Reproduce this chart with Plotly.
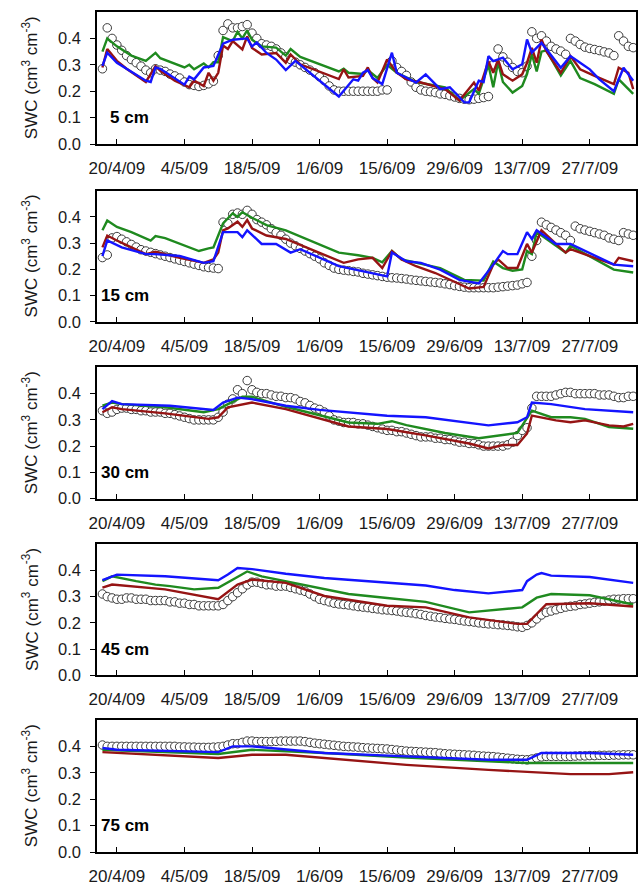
import datetime as dt
import plotly.graph_objects as go

# ---------------- data ----------------
DAY0 = dt.date(2009, 4, 20)          # day offsets below are counted from 20/4/09
OBS_FIRST_DAY = -3                   # observations are daily from 17/4/09
DEPTHS = ["5 cm", "15 cm", "30 cm", "45 cm", "75 cm"]
TICK_DATES = ["2009-04-20", "2009-05-04", "2009-05-18", "2009-06-01",
              "2009-06-15", "2009-06-29", "2009-07-13", "2009-07-27"]
Y_TICKS = [0.0, 0.1, 0.2, 0.3, 0.4]

# observed SWC (open circles), daily
OBS_5 = [0.285, 0.44, 0.40, 0.375, 0.355, 0.335, 0.32, 0.308, 0.295, 0.28,
         0.27, 0.285, 0.28, 0.275, 0.265, 0.258, 0.25, 0.235, 0.225, 0.222,
         0.218, 0.222, 0.228, 0.238, 0.335, 0.43, 0.455, 0.44, 0.44, 0.445,
         0.452, 0.42, 0.40, 0.38, 0.375, 0.37, 0.36, 0.345, 0.33, 0.32,
         0.31, 0.30, 0.29, 0.28, 0.27, 0.255, 0.24, 0.22, 0.205, 0.2,
         0.2, 0.2, 0.2, 0.2, 0.2, 0.2, 0.2, 0.2, 0.205, 0.205,
         0.315, 0.29, 0.275, 0.26, 0.235, 0.215, 0.205, 0.2, 0.198, 0.195,
         0.19, 0.188, 0.183, 0.178, 0.173, 0.17, 0.168, 0.17, 0.173, 0.176,
         0.18, 0.30, 0.36, 0.33, 0.31, 0.29, 0.275, 0.27, 0.295, 0.425,
         0.40, 0.41, 0.39, 0.37, 0.36, 0.352, 0.34, 0.40, 0.39, 0.377,
         0.367, 0.362, 0.358, 0.354, 0.349, 0.345, 0.335, 0.41, 0.39, 0.37,
         0.365]
OBS_15 = [0.245, 0.255, 0.32, 0.325, 0.315, 0.305, 0.295, 0.285, 0.275, 0.27,
          0.265, 0.26, 0.255, 0.25, 0.245, 0.24, 0.235, 0.23, 0.225, 0.22,
          0.215, 0.21, 0.207, 0.205, 0.203, 0.38, 0.375, 0.41, 0.415, 0.41,
          0.425, 0.41, 0.39, 0.38, 0.37, 0.355, 0.34, 0.33, 0.315, 0.30,
          0.29, 0.28, 0.27, 0.26, 0.25, 0.24, 0.225, 0.215, 0.205, 0.2,
          0.197, 0.195, 0.192, 0.19, 0.185, 0.182, 0.179, 0.176, 0.173, 0.17,
          0.168, 0.167, 0.165, 0.163, 0.16, 0.158, 0.156, 0.154, 0.152, 0.15,
          0.148, 0.145, 0.142, 0.138, 0.135, 0.132, 0.13, 0.13, 0.13, 0.13,
          0.13, 0.13, 0.132, 0.134, 0.136, 0.138, 0.14, 0.145, 0.15, 0.25,
          0.31, 0.38, 0.37, 0.36, 0.35, 0.34, 0.33, 0.31, 0.365, 0.355,
          0.35, 0.345, 0.34, 0.335, 0.33, 0.32, 0.315, 0.31, 0.34, 0.335,
          0.33]
OBS_30 = [0.335, 0.325, 0.33, 0.34, 0.345, 0.345, 0.34, 0.34, 0.335, 0.335,
          0.33, 0.33, 0.33, 0.325, 0.325, 0.32, 0.315, 0.31, 0.305, 0.30,
          0.30, 0.30, 0.30, 0.30, 0.31, 0.33, 0.36, 0.38, 0.415, 0.40,
          0.45, 0.415, 0.405, 0.40, 0.40, 0.395, 0.39, 0.39, 0.385, 0.385,
          0.38, 0.37, 0.365, 0.355, 0.345, 0.34, 0.33, 0.315, 0.30, 0.295,
          0.29, 0.29, 0.29, 0.285, 0.285, 0.28, 0.275, 0.27, 0.265, 0.26,
          0.26, 0.255, 0.255, 0.25, 0.245, 0.24, 0.235, 0.235, 0.235, 0.23,
          0.23, 0.225, 0.225, 0.22, 0.215, 0.215, 0.21, 0.21, 0.205, 0.2,
          0.2, 0.2, 0.2, 0.2, 0.205, 0.215, 0.24, 0.26, 0.27, 0.345,
          0.39, 0.39, 0.39, 0.39, 0.395, 0.40, 0.405, 0.405, 0.40, 0.40,
          0.40, 0.40, 0.40, 0.395, 0.395, 0.395, 0.39, 0.385, 0.385, 0.39,
          0.39]
OBS_45 = [0.31, 0.30, 0.295, 0.29, 0.29, 0.295, 0.295, 0.29, 0.29, 0.29,
          0.285, 0.285, 0.285, 0.285, 0.28, 0.28, 0.275, 0.275, 0.27, 0.27,
          0.265, 0.265, 0.265, 0.265, 0.265, 0.27, 0.285, 0.30, 0.315, 0.33,
          0.345, 0.355, 0.355, 0.35, 0.345, 0.345, 0.34, 0.34, 0.34, 0.335,
          0.33, 0.325, 0.32, 0.31, 0.30, 0.29, 0.285, 0.28, 0.275, 0.272,
          0.27, 0.268, 0.265, 0.262, 0.26, 0.258, 0.255, 0.253, 0.25, 0.249,
          0.247, 0.245, 0.242, 0.24, 0.238, 0.235, 0.232, 0.228, 0.225, 0.222,
          0.22, 0.217, 0.215, 0.213, 0.21, 0.207, 0.205, 0.203, 0.2, 0.198,
          0.196, 0.195, 0.193, 0.192, 0.19, 0.188, 0.185, 0.183, 0.19, 0.2,
          0.215, 0.23, 0.24, 0.245, 0.25, 0.255, 0.26, 0.263, 0.265, 0.27,
          0.272, 0.275, 0.278, 0.28, 0.283, 0.287, 0.29, 0.29, 0.292, 0.292,
          0.292]
OBS_75 = [0.405, 0.40, 0.40, 0.40, 0.40, 0.40, 0.40, 0.40, 0.40, 0.40,
          0.40, 0.40, 0.40, 0.40, 0.40, 0.40, 0.398, 0.398, 0.397, 0.397,
          0.396, 0.396, 0.396, 0.397, 0.398, 0.40, 0.405, 0.41, 0.41, 0.415,
          0.42, 0.42, 0.418, 0.418, 0.418, 0.418, 0.419, 0.42, 0.42, 0.42,
          0.42, 0.42, 0.418, 0.415, 0.412, 0.41, 0.408, 0.406, 0.404, 0.402,
          0.40, 0.399, 0.398, 0.397, 0.395, 0.394, 0.393, 0.392, 0.391, 0.39,
          0.388, 0.386, 0.384, 0.382, 0.381, 0.38, 0.379, 0.378, 0.377, 0.376,
          0.374, 0.372, 0.371, 0.37, 0.369, 0.368, 0.367, 0.366, 0.364, 0.363,
          0.362, 0.361, 0.359, 0.357, 0.355, 0.353, 0.351, 0.35, 0.349, 0.352,
          0.356, 0.36, 0.362, 0.362, 0.362, 0.362, 0.362, 0.362, 0.363, 0.364,
          0.364, 0.365, 0.365, 0.366, 0.366, 0.366, 0.367, 0.367, 0.368, 0.368,
          0.368]

# simulated SWC, model lines (day offset, value)
G5_DAY = [-3, -2, 0, 3, 6, 8, 9, 14, 15, 16, 18, 19, 20, 21, 22, 24, 25, 26, 27, 28,
          30, 33, 35, 36, 38, 46, 47, 48, 51, 52, 54, 56, 58, 62, 68, 71, 74, 75, 77, 78,
          79, 80, 82, 84, 85, 86, 87, 88, 89, 92, 94, 96, 99, 103, 104, 107]
G5 = [0.35, 0.40, 0.37, 0.335, 0.315, 0.345, 0.325, 0.29, 0.30, 0.283, 0.305, 0.29, 0.31, 0.31,
      0.405, 0.39, 0.425, 0.40, 0.43, 0.395, 0.37, 0.365, 0.335, 0.36, 0.33, 0.275, 0.285, 0.27,
      0.265, 0.28, 0.25, 0.30, 0.27, 0.235, 0.215, 0.165, 0.208, 0.19, 0.30, 0.215, 0.31, 0.235,
      0.195, 0.22, 0.265, 0.34, 0.275, 0.35, 0.355, 0.26, 0.315, 0.25, 0.227, 0.19, 0.245, 0.19]
R5_DAY = [-3, -2, 0, 2, 6, 8, 9, 12, 15, 16, 18, 19, 20, 21, 22, 23, 24, 26, 27, 28,
          30, 33, 35, 36, 38, 46, 47, 48, 51, 52, 53, 54, 56, 58, 60, 63, 68, 71, 74, 75,
          77, 78, 79, 80, 82, 84, 85, 86, 87, 88, 89, 92, 94, 96, 99, 103, 104, 106, 107]
R5 = [0.29, 0.36, 0.315, 0.285, 0.235, 0.295, 0.277, 0.24, 0.215, 0.24, 0.22, 0.27, 0.24, 0.27,
      0.373, 0.36, 0.39, 0.358, 0.408, 0.364, 0.339, 0.345, 0.308, 0.339, 0.302, 0.246, 0.283,
      0.252, 0.258, 0.29, 0.25, 0.233, 0.32, 0.27, 0.245, 0.233, 0.208, 0.165, 0.233, 0.202,
      0.314, 0.27, 0.32, 0.264, 0.24, 0.264, 0.308, 0.364, 0.308, 0.396, 0.352, 0.27, 0.333,
      0.283, 0.258, 0.227, 0.289, 0.27, 0.208]
B5_DAY = [-3, -2, 0, 6, 7, 8, 9, 14, 15, 16, 18, 20, 22, 24, 27, 28, 29, 31, 33, 35,
          37, 46, 49, 50, 51, 52, 53, 55, 57, 58, 62, 64, 67, 69, 72, 73, 75, 76, 77, 78,
          80, 82, 84, 85, 86, 88, 92, 94, 96, 98, 100, 103, 105, 107]
B5 = [0.296, 0.346, 0.308, 0.24, 0.235, 0.29, 0.285, 0.225, 0.255, 0.245, 0.29, 0.296, 0.38,
      0.395, 0.40, 0.37, 0.385, 0.345, 0.32, 0.28, 0.315, 0.18, 0.245, 0.24, 0.27, 0.28, 0.25,
      0.227, 0.346, 0.27, 0.233, 0.264, 0.208, 0.215, 0.158, 0.158, 0.24, 0.235, 0.333, 0.314,
      0.327, 0.283, 0.302, 0.396, 0.346, 0.383, 0.289, 0.333, 0.308, 0.283, 0.245, 0.2, 0.289,
      0.24]

G15_DAY = [-3, -2, 0, 3, 7, 8, 10, 14, 17, 19, 20, 22, 24, 25, 26, 28, 31, 35, 46, 50,
           53, 55, 57, 59, 64, 67, 72, 76, 78, 80, 82, 84, 85, 86, 87, 89, 93, 94, 103, 107]
G15 = [0.349, 0.386, 0.362, 0.342, 0.31, 0.327, 0.319, 0.29, 0.27, 0.28, 0.284, 0.375, 0.414,
       0.40, 0.418, 0.397, 0.369, 0.349, 0.264, 0.254, 0.244, 0.227, 0.27, 0.238, 0.218, 0.205,
       0.16, 0.157, 0.23, 0.205, 0.195, 0.2, 0.27, 0.258, 0.342, 0.316, 0.264, 0.29, 0.199, 0.188]
R15_DAY = [-3, -2, 0, 6, 8, 13, 18, 20, 21, 22, 23, 25, 26, 27, 28, 31, 35, 46, 47, 50,
           53, 55, 57, 59, 62, 66, 71, 73, 76, 78, 79, 81, 83, 85, 86, 88, 91, 93, 94, 103,
           104, 107]
R15 = [0.284, 0.329, 0.31, 0.258, 0.267, 0.244, 0.225, 0.238, 0.264, 0.349, 0.356, 0.382,
       0.362, 0.388, 0.356, 0.329, 0.316, 0.231, 0.225, 0.238, 0.244, 0.205, 0.27, 0.238, 0.212,
       0.186, 0.146, 0.127, 0.133, 0.218, 0.238, 0.205, 0.205, 0.297, 0.264, 0.349, 0.297,
       0.264, 0.277, 0.218, 0.244, 0.231]
B15_DAY = [-3, -2, 1, 6, 8, 13, 18, 20, 22, 25, 26, 27, 30, 33, 36, 38, 46, 51, 56, 57,
           60, 63, 67, 71, 73, 75, 78, 80, 81, 83, 85, 86, 87, 91, 94, 103, 107]
B15 = [0.251, 0.31, 0.284, 0.258, 0.258, 0.251, 0.225, 0.231, 0.342, 0.342, 0.323, 0.349,
       0.297, 0.297, 0.264, 0.277, 0.212, 0.192, 0.173, 0.264, 0.231, 0.225, 0.199, 0.16,
       0.153, 0.146, 0.218, 0.27, 0.258, 0.258, 0.342, 0.316, 0.349, 0.297, 0.297, 0.218, 0.212]

G30_DAY = [-3, -1, 1, 10, 18, 21, 26, 28, 35, 48, 54, 57, 60, 68, 75, 81, 83, 86, 90, 94,
           97, 102, 107]
G30 = [0.354, 0.366, 0.36, 0.348, 0.329, 0.341, 0.388, 0.388, 0.35, 0.29, 0.285, 0.295, 0.28,
       0.25, 0.23, 0.245, 0.25, 0.335, 0.31, 0.31, 0.304, 0.273, 0.266]
R30_DAY = [-3, -1, 1, 10, 19, 21, 23, 28, 35, 48, 56, 60, 64, 73, 77, 80, 83, 85, 86, 91,
           94, 97, 102, 105, 107]
R30 = [0.329, 0.348, 0.341, 0.325, 0.304, 0.31, 0.348, 0.366, 0.341, 0.275, 0.265, 0.254,
       0.241, 0.21, 0.191, 0.204, 0.204, 0.248, 0.316, 0.298, 0.291, 0.298, 0.279, 0.275, 0.285]
B30_DAY = [-3, -1, 1, 11, 20, 22, 25, 28, 35, 42, 56, 64, 77, 83, 85, 86, 90, 97, 107]
B30 = [0.341, 0.372, 0.36, 0.354, 0.338, 0.366, 0.385, 0.379, 0.354, 0.338, 0.316, 0.31,
       0.279, 0.291, 0.31, 0.366, 0.36, 0.341, 0.329]

G45_DAY = [-3, -1, 4, 8, 11, 16, 21, 24, 27, 30, 35, 48, 56, 64, 73, 84, 87, 90, 98, 102, 107]
G45 = [0.359, 0.3775, 0.359, 0.346, 0.34, 0.3275, 0.334, 0.365, 0.396, 0.3775, 0.359, 0.31,
       0.295, 0.28, 0.24, 0.259, 0.296, 0.31, 0.305, 0.29, 0.27]
R45_DAY = [-3, -1, 10, 21, 25, 28, 35, 43, 56, 64, 73, 83, 85, 89, 98, 107]
R45 = [0.334, 0.346, 0.3275, 0.29, 0.346, 0.365, 0.3525, 0.3025, 0.265, 0.259, 0.221, 0.196,
       0.196, 0.271, 0.275, 0.2625]
B45_DAY = [-3, 0, 10, 21, 23, 25, 28, 35, 43, 56, 64, 70, 77, 84, 85, 87, 88, 90, 98, 107]
B45 = [0.3625, 0.384, 0.3775, 0.3625, 0.384, 0.409, 0.405, 0.3875, 0.371, 0.3525, 0.3425,
       0.325, 0.3125, 0.325, 0.359, 0.384, 0.39, 0.38, 0.375, 0.3525]

G75_DAY = [-3, 21, 28, 43, 60, 77, 85, 107]
G75 = [0.387, 0.371, 0.387, 0.375, 0.358, 0.343, 0.337, 0.337]
R75_DAY = [-3, 21, 28, 35, 60, 77, 94, 102, 107]
R75 = [0.378, 0.356, 0.368, 0.368, 0.33, 0.311, 0.295, 0.295, 0.302]
B75_DAY = [-3, 0, 21, 24, 28, 35, 43, 60, 77, 85, 88, 98, 107]
B75 = [0.394, 0.387, 0.378, 0.40, 0.40, 0.387, 0.375, 0.362, 0.349, 0.349, 0.375, 0.375, 0.368]

OBS = [OBS_5, OBS_15, OBS_30, OBS_45, OBS_75]
GREEN = [(G5_DAY, G5), (G15_DAY, G15), (G30_DAY, G30), (G45_DAY, G45), (G75_DAY, G75)]
RED = [(R5_DAY, R5), (R15_DAY, R15), (R30_DAY, R30), (R45_DAY, R45), (R75_DAY, R75)]
BLUE = [(B5_DAY, B5), (B15_DAY, B15), (B30_DAY, B30), (B45_DAY, B45), (B75_DAY, B75)]

# ---------------- styling ----------------
W, H = 639, 887
FONT = "Liberation Sans, Arial, sans-serif"
TXT = "#1a1a1a"
C_GREEN, C_RED, C_BLUE = "#1f8a1f", "#961414", "#1414ff"
PANEL_PX = [(12, 145), (192, 324), (370, 502), (548, 680), (725, 858)]
M_T, M_B, M_L, M_R = 12, H - 858, 97, 1
PLOT_H = H - M_T - M_B
X_RANGE = ["2009-04-15 21:00", "2009-08-05 14:00"]


def to_dates(days):
    return [DAY0 + dt.timedelta(days=int(d)) for d in days]


fig = go.Figure()
layout = {}
annotations = []
for i in range(5):
    n = "" if i == 0 else str(i + 1)
    xa, ya = "x" + n, "y" + n
    top, bot = PANEL_PX[i]
    dom = [(858 - bot) / PLOT_H, (858 - top) / PLOT_H]

    obs = OBS[i]
    obs_x = to_dates(range(OBS_FIRST_DAY, OBS_FIRST_DAY + len(obs)))
    fig.add_trace(go.Scatter(
        x=obs_x, y=obs, mode="markers", xaxis=xa, yaxis=ya, showlegend=False,
        marker=dict(symbol="circle", size=8.5, color="white",
                    line=dict(color="#3a3a3a", width=1)),
        cliponaxis=False))
    for (days, vals), col in ((GREEN[i], C_GREEN), (RED[i], C_RED), (BLUE[i], C_BLUE)):
        fig.add_trace(go.Scatter(
            x=to_dates(days), y=vals, mode="lines", xaxis=xa, yaxis=ya,
            showlegend=False, line=dict(color=col, width=2.4)))

    layout["xaxis" + n] = dict(
        domain=[0, 1], anchor=ya, type="date", range=X_RANGE,
        tickmode="array", tickvals=TICK_DATES, tickformat="%-d/%-m/%y",
        ticks="inside", ticklen=5, tickwidth=1, tickcolor="black",
        showline=True, linecolor="black", linewidth=1.6, mirror=True,
        showgrid=False, zeroline=False, ticklabelstandoff=8,
        tickfont=dict(family=FONT, size=17, color=TXT))
    layout["yaxis" + n] = dict(
        domain=dom, anchor=xa, range=[0, 0.5],
        tickmode="array", tickvals=Y_TICKS, tickformat=".1f",
        ticks="outside", ticklen=5, tickwidth=1, tickcolor="black",
        showline=True, linecolor="black", linewidth=1.6, mirror=True,
        showgrid=False, zeroline=False, ticklabelstandoff=6,
        tickfont=dict(family=FONT, size=16.5, color=TXT))

    annotations.append(dict(
        text="<b>" + DEPTHS[i] + "</b>", xref=xa + " domain", yref=ya,
        x=0.1, y=0.1, xanchor="right", yanchor="middle", showarrow=False,
        font=dict(family=FONT, size=17, color="black")))
    annotations.append(dict(
        text="SWC (cm<sup>3</sup> cm<sup>-3</sup>)", textangle=-90,
        xref="paper", yref=ya + " domain", x=-0.124, y=0.5,
        xanchor="center", yanchor="middle", showarrow=False,
        font=dict(family=FONT, size=17, color=TXT)))

fig.update_layout(
    width=W, height=H, margin=dict(l=M_L, r=M_R, t=M_T, b=M_B),
    paper_bgcolor="white", plot_bgcolor="white",
    annotations=annotations, **layout)

fig.write_html(
    "out.html",
    config={"displayModeBar": False},
    post_script="document.body.style.margin='0';document.body.style.overflow='hidden';")
